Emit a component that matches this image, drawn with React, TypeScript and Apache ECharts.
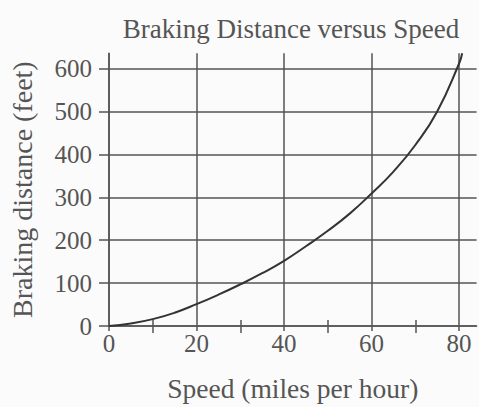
import React, { useEffect, useRef } from "react";
import * as echarts from "echarts";

const title = "Braking Distance versus Speed";
const xName = "Speed (miles per hour)";
const yName = "Braking distance (feet)";
const xTicks = [0, 20, 40, 60, 80];
const xMinorTicks = [10, 30, 50, 70];
const yTicks = [0, 100, 200, 300, 400, 500, 600];
const speeds = [0, 5, 10, 15, 20, 25, 30, 35, 40, 45, 50, 55, 60, 65, 70, 75, 80, 80.7];
const distances = [0, 6, 16, 31, 51, 73, 97, 123, 152, 186, 222, 262, 309, 360, 422, 500, 612, 636];

const FONT = "Liberation Serif";
const TEXT = "#555";
const LINE = "#555";

export default function App() {
  const ref = useRef<HTMLDivElement>(null);
  useEffect(() => {
    if (!ref.current) return;
    const chart = echarts.init(ref.current, undefined, { renderer: "svg" });
    chart.setOption({
      animation: false,
      backgroundColor: "#fbfbfb",
      title: {
        text: title,
        left: 286,
        textAlign: "center",
        top: 10,
        textStyle: { fontFamily: FONT, fontSize: 27, fontWeight: "normal", color: TEXT },
      },
      grid: { left: 107, right: 2.4, top: 53.2, bottom: 74 },
      xAxis: [
        {
          type: "value",
          min: 0,
          max: 84,
          interval: 20,
          axisLine: { show: true, lineStyle: { color: LINE, width: 1.5 } },
          axisTick: { show: true, length: 5, customValues: xTicks, lineStyle: { color: LINE, width: 1.5 } },
          axisLabel: {
            customValues: xTicks,
            margin: 5,
            fontFamily: FONT,
            fontSize: 25,
            color: TEXT,
          },
          splitLine: { show: true, lineStyle: { color: LINE, width: 1.5 } },
          name: xName,
          nameLocation: "middle",
          nameGap: 48,
          nameTextStyle: { fontFamily: FONT, fontSize: 27.5, color: TEXT },
        },
        {
          type: "value",
          min: 0,
          max: 84,
          interval: 10,
          position: "bottom",
          offset: -6,
          axisLine: { show: false },
          axisTick: { show: true, length: 13, customValues: xMinorTicks, lineStyle: { color: LINE, width: 1.5 } },
          axisLabel: { show: false },
          splitLine: { show: false },
        },
      ],
      yAxis: {
        type: "value",
        min: 0,
        max: 636,
        interval: 100,
        axisLine: { show: true, lineStyle: { color: LINE, width: 1.5 } },
        axisTick: { show: true, length: 10, customValues: yTicks, lineStyle: { color: LINE, width: 1.5 } },
        axisLabel: {
          customValues: yTicks,
          margin: 17,
          fontFamily: FONT,
          fontSize: 25,
          color: TEXT,
        },
        splitLine: { show: true, lineStyle: { color: LINE, width: 1.5 } },
        name: yName,
        nameLocation: "middle",
        nameGap: 73,
        nameTextStyle: { fontFamily: FONT, fontSize: 28, color: TEXT },
      },
      series: [
        {
          type: "line",
          xAxisIndex: 0,
          data: speeds.map((s, i) => [s, distances[i]]),
          smooth: true,
          showSymbol: false,
          clip: false,
          lineStyle: { color: "#333", width: 2 },
        },
      ],
    });
    return () => chart.dispose();
  }, []);
  return <div ref={ref} style={{ position: "fixed", left: 0, top: 0, width: 479, height: 407 }} />;
}
